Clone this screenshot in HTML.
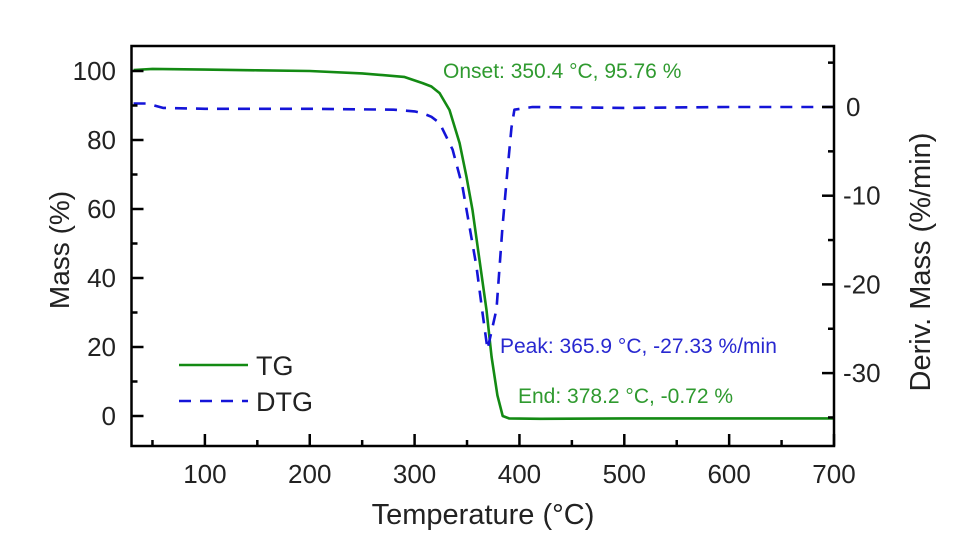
<!DOCTYPE html>
<html><head><meta charset="utf-8"><style>
html,body{margin:0;padding:0;background:#fff;}
svg{display:block;font-family:"Liberation Sans",Arial,sans-serif;}
</style></head><body>
<svg id="chart" width="953" height="542" viewBox="0 0 953 542"></svg>
<script>
const xTicks=[100,200,300,400,500,600,700];
const yLeftTicks=[0,20,40,60,80,100];
const yRightTicks=[0,-10,-20,-30];
const tgT=[32,50,100,150,200,250,290,307.6,316,323.8,333.3,342.9,349.5,355.2,361.9,368.6,373.4,379,384,390,420,500,600,700];
const tgM=[100.3,100.6,100.4,100.2,100.0,99.3,98.3,96.5,95.5,93.6,88.7,79.1,69.3,59.7,45.2,30.7,17.1,6,0,-0.7,-0.8,-0.7,-0.7,-0.7];
const dtgT=[32,45,60,100,200,280,300,307.6,316,323.8,336.2,345.7,352.4,359,364.8,369.5,378.1,383.8,388.6,392.4,395.2,412.4,500,600,700];
const dtgV=[0.4,0.4,-0.1,-0.2,-0.2,-0.3,-0.5,-0.7,-1.1,-1.8,-4.8,-9.0,-13.5,-18,-23.2,-27.33,-22.8,-13.5,-7.1,-2.3,-0.3,0,-0.1,0,0];
const NS="http://www.w3.org/2000/svg";
const svg=document.getElementById('chart');
const L=131.5,R=834,T=46,B=446;
const X=t=>L+(t-30)*(R-L)/670;
const Y1=m=>416-m*3.45;
const Y2=v=>107-v*8.87;
function mk(tag,attrs,parent){const e=document.createElementNS(NS,tag);for(const k in attrs)e.setAttribute(k,attrs[k]);(parent||svg).appendChild(e);return e;}
function txt(s,attrs){const e=mk('text',attrs);e.textContent=s;return e;}
let d='';tgT.forEach((t,i)=>{d+=(i?'L':'M')+X(t).toFixed(1)+','+Y1(tgM[i]).toFixed(1);});
let tg=mk('path',{d:d,fill:'none',stroke:'#138a13','stroke-width':2.6,'stroke-linejoin':'round'});


d='';dtgT.forEach((t,i)=>{d+=(i?'L':'M')+X(t).toFixed(1)+','+Y2(dtgV[i]).toFixed(1);});
let dtg=mk('path',{d:d,fill:'none',stroke:'#1414d8','stroke-width':2.6,'stroke-dasharray':'12,9','stroke-linejoin':'round'});


let fr=mk('rect',{x:L,y:T,width:R-L,height:B-T,fill:'none',stroke:'#000','stroke-width':2.5});


for(let t=50;t<=700;t+=50){const maj=t%100===0;mk('line',{x1:X(t),x2:X(t),y1:B,y2:B-(maj?12:6),stroke:'#000','stroke-width':2.5});}
xTicks.forEach(t=>{const e=txt(String(t),{x:X(t),y:483,'text-anchor':'middle','font-size':26,fill:'#222'});

});
for(let m=0;m<=100;m+=10){const maj=m%20===0;mk('line',{x1:L,x2:L+(maj?12:6),y1:Y1(m),y2:Y1(m),stroke:'#000','stroke-width':2.5});}
yLeftTicks.forEach(m=>{const e=txt(String(m),{x:116,y:Y1(m)+9,'text-anchor':'end','font-size':26,fill:'#222'});

});
for(let v=5;v>=-35;v-=5){const maj=v%10===0;mk('line',{x1:R,x2:R-(maj?12:6),y1:Y2(v),y2:Y2(v),stroke:'#000','stroke-width':2.5});}
yRightTicks.forEach(v=>{const e=txt(String(v),{x:v===0?846:843,y:Y2(v)+9,'text-anchor':'start','font-size':26,fill:'#222'});

});
</script>
<script>
(function(){
const svg=document.getElementById('chart');const NS="http://www.w3.org/2000/svg";
function t(s,a,name){const e=document.createElementNS(NS,'text');for(const k in a)e.setAttribute(k,a[k]);e.textContent=s;


svg.appendChild(e);return e;}
function l(a,name){const e=document.createElementNS(NS,'line');for(const k in a)e.setAttribute(k,a[k]);


svg.appendChild(e);}
t('Temperature (°C)',{x:483,y:524,'text-anchor':'middle','font-size':29,fill:'#222'},'x-axis-title');
t('Mass (%)',{x:0,y:0,transform:'translate(69,250) rotate(-90)','text-anchor':'middle','font-size':28,fill:'#222'},'y-left-axis-title');
t('Deriv. Mass (%/min)',{x:0,y:0,transform:'translate(930,262) rotate(-90)','text-anchor':'middle','font-size':29,fill:'#222'},'y-right-axis-title');
t('Onset: 350.4 °C, 95.76 %',{x:443,y:78,'font-size':21,fill:'#2f9a2f'},'onset-annotation');
t('Peak: 365.9 °C, -27.33 %/min',{x:500,y:353,'font-size':21,fill:'#2828d0'},'peak-annotation');
t('End: 378.2 °C, -0.72 %',{x:518,y:403,'font-size':21,fill:'#2f9a2f'},'end-annotation');
l({x1:179,x2:248,y1:365,y2:365,stroke:'#138a13','stroke-width':2.6},'legend-tg-line');
t('TG',{x:256,y:375,'font-size':27,fill:'#222'},'legend-tg-label');
l({x1:179,x2:248,y1:401,y2:401,stroke:'#1414d8','stroke-width':2.6,'stroke-dasharray':'12,9'},'legend-dtg-line');
t('DTG',{x:256,y:411,'font-size':27,fill:'#222'},'legend-dtg-label');
})();
</script>
</body></html>
